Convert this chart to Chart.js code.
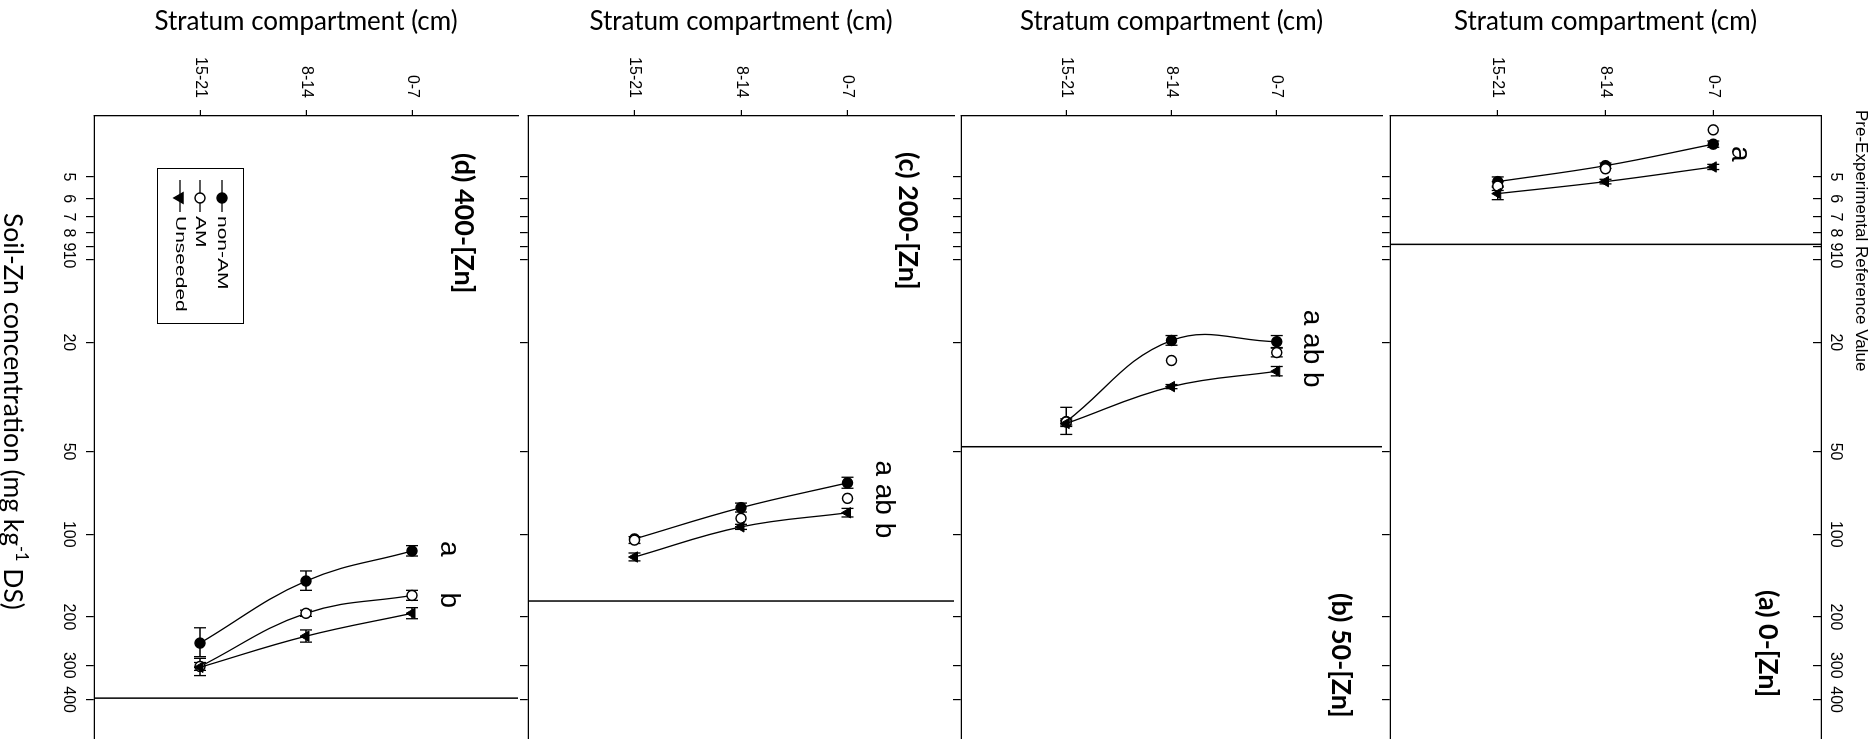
<!DOCTYPE html>
<html>
<head>
<meta charset="utf-8">
<script src="https://cdn.jsdelivr.net/npm/chart.js@4.4.0/dist/chart.umd.min.js"></script>
<style>
  html, body { margin: 0; padding: 0; background: #fff; overflow: hidden; }
  body { width: 1876px; height: 739px; position: relative; }
  /* the figure is drawn upright and turned a quarter turn clockwise */
  #figure { position: absolute; left: 0; top: 0; width: 760px; height: 1876px;
            transform-origin: 0 0; transform: translateX(1876px) rotate(90deg); }
  #figure canvas { position: absolute; left: 0; }
</style>
</head>
<body>
<div id="figure">
  <canvas id="panelA"></canvas>
  <canvas id="panelB"></canvas>
  <canvas id="panelC"></canvas>
  <canvas id="panelD"></canvas>
</div>
<script>
// ---- data ----
const strata = ['0-7', '8-14', '15-21'];
const concTicks = [5, 6, 7, 8, 9, 10, 20, 50, 100, 200, 300, 400];
const panelTitles = ['(a) 0-[Zn]', '(b) 50-[Zn]', '(c) 200-[Zn]', '(d) 400-[Zn]'];
const seriesNames = ['non-AM', 'AM', 'Unseeded'];
const refValues = [8.8, 48, 175, 395];

// one row per panel, values for 0-7, 8-14, 15-21 cm
const nonAM = [
  [3.8, 4.55, 5.2],
  [19.9, 19.7, 38.9],
  [65, 80, 104],
  [115, 148, 249]
];
const nonAMErr = [
  [0.1, 0.1, 0.2],
  [1, 0.8, 4.4],
  [3, 3, 0],
  [5, 12, 30]
];
const am = [
  [3.37, 4.67, 5.4],
  [21.8, 23.3, 39],
  [74, 87.5, 105],
  [167, 194, 303]
];
const amErr = [
  [0, 0, 0.2],
  [0.8, 0, 1],
  [0, 0, 3],
  [7, 5, 10]
];
const unseeded = [
  [4.6, 5.2, 5.75],
  [25.5, 29, 39.5],
  [83.5, 94, 121],
  [194, 235, 305]
];
const unseededErr = [
  [0.1, 0.1, 0.3],
  [1, 0.5, 1],
  [3, 2, 4],
  [9, 12, 22]
];
const amLine = [false, false, false, true];
const sigLetters = [['a'], ['a ab b'], ['a ab b'], ['a', 'b']];

// ---- layout ----
const panelBoxes = [
  { id: 'panelA', top: 0,    axisTop: 55, plotH: 431, axisBottom: 14 },
  { id: 'panelB', top: 487,  axisTop: 0,  plotH: 428, axisBottom: 14 },
  { id: 'panelC', top: 915,  axisTop: 0,  plotH: 433, axisBottom: 14 },
  { id: 'panelD', top: 1351, axisTop: 0,  plotH: 431, axisBottom: 94 }
];
const titleAt = [[590, 53], [593, 41], [152, 46], [153, 54]];
const sigAt = [[[4.12, 0.75]], [[21.1, 0.67]], [[74.6, 0.66]], [[113, 0.65], [174, 0.65]]];

const tickFont = { family: "'Liberation Sans', Arial, sans-serif", size: 16 };
const sansFamily = "'Liberation Sans', Arial, sans-serif";
const titleFamily = "Lato, 'Open Sans', sans-serif";

function pts(vals) {
  return vals.map((v, k) => ({ x: v, y: k + 1 }));
}

function marker(ctx, style, x, y, fill) {
  ctx.fillStyle = fill;
  ctx.strokeStyle = '#000';
  ctx.lineWidth = 1.5;
  Chart.helpers.drawPoint(ctx, style, x, y);
}

const errorBars = {
  id: 'errorBars',
  beforeDatasetsDraw(chart) {
    const ctx = chart.ctx, xs = chart.scales.x;
    ctx.save();
    ctx.strokeStyle = '#000';
    ctx.lineWidth = 1.3;
    chart.data.datasets.forEach((ds, di) => {
      const meta = chart.getDatasetMeta(di);
      meta.data.forEach((pt, j) => {
        const err = ds.errors[j];
        if (!err) return;
        const v = ds.data[j].x;
        const xa = xs.getPixelForValue(v - err), xb = xs.getPixelForValue(v + err);
        ctx.beginPath();
        ctx.moveTo(xa, pt.y); ctx.lineTo(xb, pt.y);
        ctx.moveTo(xa, pt.y - 6); ctx.lineTo(xa, pt.y + 6);
        ctx.moveTo(xb, pt.y - 6); ctx.lineTo(xb, pt.y + 6);
        ctx.stroke();
      });
    });
    ctx.restore();
  }
};

const decor = {
  id: 'decor',
  beforeDatasetsDraw(chart, args, opts) {
    const i = opts.panel, ctx = chart.ctx, area = chart.chartArea;
    const rx = chart.scales.x.getPixelForValue(refValues[i]);
    ctx.save();
    ctx.strokeStyle = '#000';
    ctx.lineWidth = 1.5;
    ctx.beginPath();
    ctx.moveTo(rx, area.top);
    ctx.lineTo(rx, area.bottom);
    ctx.stroke();
    ctx.restore();
  },
  afterDraw(chart, args, opts) {
    const i = opts.panel, ctx = chart.ctx, area = chart.chartArea;
    const xs = chart.scales.x, ys = chart.scales.y;
    ctx.save();
    ctx.fillStyle = '#000';
    ctx.textBaseline = 'middle';

    // panel label
    ctx.font = 'bold 27px ' + titleFamily;
    ctx.textAlign = 'left';
    ctx.fillText(panelTitles[i], titleAt[i][0], area.top + titleAt[i][1]);

    // significance letters
    ctx.font = '28px ' + sansFamily;
    ctx.textAlign = 'center';
    sigLetters[i].forEach((txt, k) => {
      const [vx, vy] = sigAt[i][k];
      ctx.fillText(txt, xs.getPixelForValue(vx), ys.getPixelForValue(vy));
    });

    if (i === 0) {
      ctx.font = '17px ' + sansFamily;
      ctx.textAlign = 'left';
      ctx.fillText('Pre-Experimental Reference Value', 110, 15);
    }

    if (i === 3) {
      // legend
      ctx.lineWidth = 1;
      ctx.strokeStyle = '#000';
      ctx.strokeRect(168.5, 281.5, 155, 86);
      const rows = [303, 325, 345];
      const styles = [
        { pointStyle: 'circle', radius: 5, rotation: 0, borderWidth: 1.5 },
        { pointStyle: 'circle', radius: 5, rotation: 0, borderWidth: 1.5 },
        { pointStyle: 'triangle', radius: 6, rotation: 180, borderWidth: 1 }
      ];
      const fills = ['#000', '#fff', '#000'];
      seriesNames.forEach((name, k) => {
        ctx.lineWidth = 1.3;
        ctx.beginPath();
        ctx.moveTo(180, rows[k]);
        ctx.lineTo(212, rows[k]);
        ctx.stroke();
        marker(ctx, styles[k], 198, rows[k], fills[k]);
        ctx.save();
        ctx.fillStyle = '#000';
        ctx.font = '15px ' + sansFamily;
        ctx.textAlign = 'left';
        ctx.translate(216, rows[k]);
        ctx.scale(1.4, 1);
        ctx.fillText(name, 0, 0);
        ctx.restore();
      });

      // concentration axis title with superscript
      const parts = ['Soil-Zn concentration (mg kg', '-1', ' DS)'];
      let size = 23;
      const widthAt = s => {
        ctx.font = s + 'px ' + titleFamily;
        const a = ctx.measureText(parts[0]).width + ctx.measureText(parts[2]).width;
        ctx.font = (s * 0.62) + 'px ' + titleFamily;
        return a + ctx.measureText(parts[1]).width;
      };
      size = size * 397 / widthAt(size);
      const yBase = 512;
      let u = 213;
      ctx.fillStyle = '#000';
      ctx.textAlign = 'left';
      ctx.font = size + 'px ' + titleFamily;
      ctx.fillText(parts[0], u, yBase);
      u += ctx.measureText(parts[0]).width;
      ctx.font = (size * 0.62) + 'px ' + titleFamily;
      ctx.fillText(parts[1], u, yBase - size * 0.3);
      u += ctx.measureText(parts[1]).width;
      ctx.font = size + 'px ' + titleFamily;
      ctx.fillText(parts[2], u, yBase);
    }
    ctx.restore();
  }
};

function logAxis(position, showLabels, size) {
  const top = position === 'top';
  return {
    type: 'logarithmic',
    position: position,
    min: 3,
    max: 600,
    afterBuildTicks: s => { s.ticks = concTicks.map(v => ({ value: v })); },
    ticks: {
      autoSkip: false, maxRotation: 0, minRotation: 0,
      color: '#000', font: tickFont,
      padding: top ? 13 : 8,
      callback: v => showLabels ? String(v) : ''
    },
    grid: { drawOnChartArea: false, color: '#000', lineWidth: 1.2, tickLength: top ? -8 : 8 },
    border: { display: true, color: '#000', width: 1.3 },
    afterFit: s => { s.height = size; s.paddingLeft = 0; s.paddingRight = 0; }
  };
}

function makePanel(i) {
  const p = panelBoxes[i];
  const canvas = document.getElementById(p.id);
  canvas.width = 760;
  canvas.height = p.axisTop + p.plotH + p.axisBottom;
  canvas.style.top = p.top + 'px';

  const scales = {
    x: logAxis('bottom', i === 3, p.axisBottom),
    y: {
      type: 'linear',
      min: 0,
      max: 4,
      reverse: true,
      afterBuildTicks: s => { s.ticks = [1, 2, 3].map(v => ({ value: v })); },
      ticks: { color: '#000', font: tickFont, padding: 12, callback: v => strata[v - 1] },
      grid: { drawOnChartArea: false, color: '#000', lineWidth: 1.2, tickLength: 6 },
      border: { display: true, color: '#000', width: 1.3 },
      title: {
        display: true,
        text: 'Stratum compartment (cm)',
        color: '#000',
        font: { family: titleFamily, size: 26 },
        padding: { top: 6, bottom: 0 }
      },
      afterFit: s => { s.width = 116; s.paddingTop = 0; s.paddingBottom = 0; }
    }
  };
  if (i === 0) scales.xTop = logAxis('top', true, p.axisTop);

  new Chart(canvas, {
    type: 'line',
    data: {
      datasets: [
        {
          label: seriesNames[2], data: pts(unseeded[i]), errors: unseededErr[i], order: 1,
          borderColor: '#000', borderWidth: 1.3, tension: 0.4,
          pointStyle: 'triangle', pointRotation: 180, pointRadius: 6,
          pointBackgroundColor: '#000', pointBorderColor: '#000', pointBorderWidth: 1
        },
        {
          label: seriesNames[1], data: pts(am[i]), errors: amErr[i], order: 2,
          showLine: amLine[i],
          borderColor: '#000', borderWidth: 1.3, tension: 0.4,
          pointStyle: 'circle', pointRadius: 5,
          pointBackgroundColor: '#fff', pointBorderColor: '#000', pointBorderWidth: 1.5
        },
        {
          label: seriesNames[0], data: pts(nonAM[i]), errors: nonAMErr[i], order: 3,
          borderColor: '#000', borderWidth: 1.3, tension: 0.4,
          pointStyle: 'circle', pointRadius: 5,
          pointBackgroundColor: '#000', pointBorderColor: '#000', pointBorderWidth: 1.5
        }
      ]
    },
    options: {
      indexAxis: 'y',
      responsive: false,
      animation: false,
      devicePixelRatio: 1,
      events: [],
      layout: { padding: { left: 0, right: 12, top: 0, bottom: 0 } },
      scales: scales,
      plugins: {
        legend: { display: false },
        tooltip: { enabled: false },
        decor: { panel: i }
      }
    },
    plugins: [errorBars, decor]
  });
}

[0, 1, 2, 3].forEach(makePanel);
</script>
</body>
</html>
